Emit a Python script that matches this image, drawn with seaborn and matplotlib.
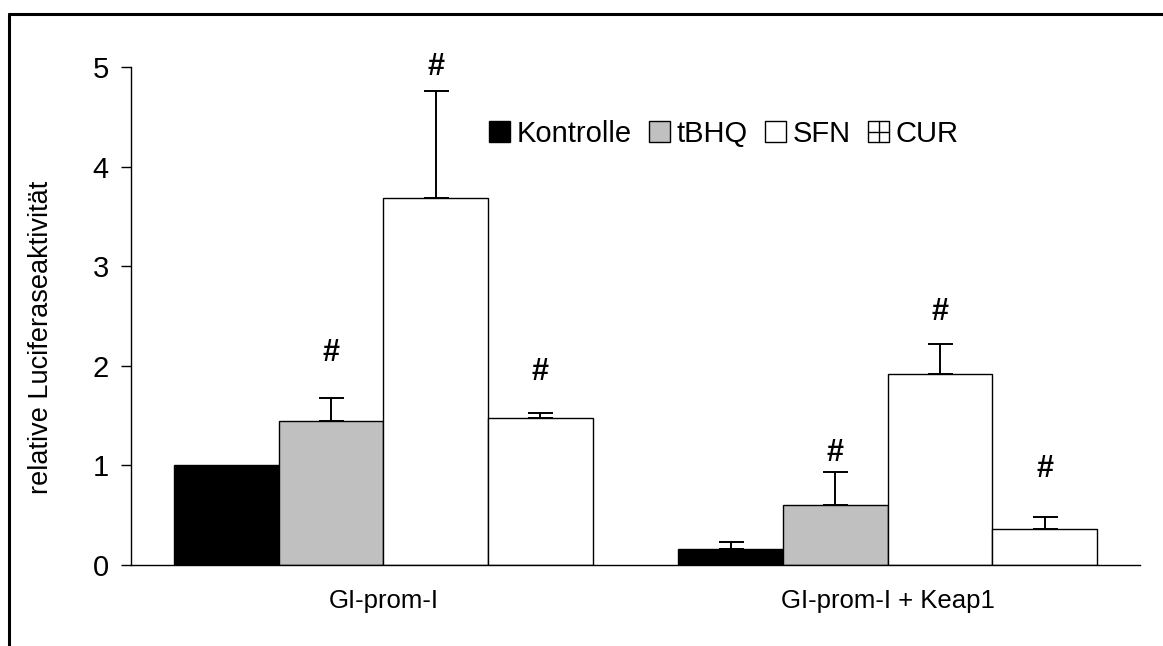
import matplotlib
matplotlib.use("Agg")
import matplotlib.pyplot as plt
from matplotlib.lines import Line2D
from matplotlib.patches import Patch, Rectangle
from matplotlib.legend_handler import HandlerBase
import seaborn as sns
import pandas as pd
import numpy as np

groups = ["GI-prom-I", "GI-prom-I + Keap1"]
treatments = ["Kontrolle", "tBHQ", "SFN", "CUR"]
values_g1 = [1.00, 1.45, 3.68, 1.48]
values_g2 = [0.16, 0.60, 1.92, 0.36]
errors_g1 = [0.00, 0.23, 1.08, 0.05]
errors_g2 = [0.07, 0.33, 0.30, 0.12]
hash_g1 = [None, 2.13, 5.00, 1.94]
hash_g2 = [None, 1.12, 2.54, 0.96]
colors = ["#000000", "#c0c0c0", "#ffffff", "#ffffff"]

sns.set_style("white")
plt.rcParams["font.family"] = ["Liberation Sans", "DejaVu Sans"]
for k in ["text.color", "axes.labelcolor", "xtick.color", "ytick.color"]:
    plt.rcParams[k] = "black"

rows = []
for g, vals in zip(groups, [values_g1, values_g2]):
    for t, v in zip(treatments, vals):
        rows.append({"group": g, "treatment": t, "value": v})
df = pd.DataFrame(rows)

fig = plt.figure(figsize=(11.63, 6.46), dpi=100)
ax = fig.add_axes([131/1163, 1-565/646, (1140-131)/1163, (565-67)/646])

sns.barplot(data=df, x="group", y="value", hue="treatment", order=groups,
            hue_order=treatments, palette=colors, edgecolor="black",
            linewidth=1.0, width=0.83, gap=0, errorbar=None, ax=ax,
            legend=False, saturation=1)

bars = [p for p in ax.patches if p.get_width() > 0]
bars_sorted = sorted(bars, key=lambda p: p.get_x())
errs = errors_g1 + errors_g2
hashes = hash_g1 + hash_g2
for p, e, h in zip(bars_sorted, errs, hashes):
    cx = p.get_x() + p.get_width()/2
    top = p.get_height()
    if e > 0:
        ax.errorbar(cx, top, yerr=[[0], [e]], fmt="none", ecolor="black",
                    elinewidth=1.4, capsize=9, capthick=1.4, zorder=1)
    if h is not None:
        ax.text(cx, h, "#", ha="center", va="center", fontsize=22,
                fontweight="bold", color="black")

ax.set_xlim(-0.5, 1.5)
ax.set_ylim(0, 5)
ax.set_yticks([0, 1, 2, 3, 4, 5])
ax.set_xticks([0, 1])
ax.set_xticklabels(groups)
ax.set_xticks([-0.5, 0.5, 1.5], minor=True)
ax.tick_params(axis="x", which="major", length=0, labelsize=18.5, pad=17)
ax.tick_params(axis="x", which="minor", length=7, width=1, direction="out", color="black")
ax.tick_params(axis="y", length=7, width=1, direction="out", color="black",
               labelsize=21, pad=9, left=True)
ax.set_xlabel("")
ax.set_ylabel("relative Luciferaseaktivität", fontsize=19.5)
ax.yaxis.set_label_coords((54-131)/1009, (565-337)/498)
for s in ["top", "right"]:
    ax.spines[s].set_visible(False)
for s in ["left", "bottom"]:
    ax.spines[s].set_color("black")
    ax.spines[s].set_linewidth(1.0)


class CrossBoxHandler(HandlerBase):
    def create_artists(self, legend, orig_handle, xdescent, ydescent, width,
                       height, fontsize, trans):
        x0, y0 = -xdescent, -ydescent
        r = Rectangle((x0, y0), width, height, facecolor="white",
                      edgecolor="black", linewidth=1, transform=trans)
        l1 = Line2D([x0 + width/2, x0 + width/2], [y0, y0 + height],
                    color="black", lw=1, transform=trans)
        l2 = Line2D([x0, x0 + width], [y0 + height/2, y0 + height/2],
                    color="black", lw=1, transform=trans)
        return [r, l1, l2]


handles = [Patch(facecolor=colors[0], edgecolor="black", linewidth=1),
           Patch(facecolor=colors[1], edgecolor="black", linewidth=1),
           Patch(facecolor=colors[2], edgecolor="black", linewidth=1),
           Patch(facecolor=colors[3], edgecolor="black", linewidth=1)]
leg = ax.legend(handles, treatments, loc="center left",
                bbox_to_anchor=((489-131)/1009, (565-134)/498), ncol=4,
                frameon=False, fontsize=21, handlelength=0.72, handleheight=0.72,
                handletextpad=0.22, columnspacing=0.6, borderaxespad=0,
                borderpad=0, handler_map={handles[3]: CrossBoxHandler()})

fig.add_artist(Line2D([9/1163, 1], [1-14/646, 1-14/646], color="black", lw=2.2,
                      transform=fig.transFigure))
fig.add_artist(Line2D([9/1163, 9/1163], [0, 1-14/646], color="black", lw=2.2,
                      transform=fig.transFigure))

fig.savefig("out.png", dpi=100)
